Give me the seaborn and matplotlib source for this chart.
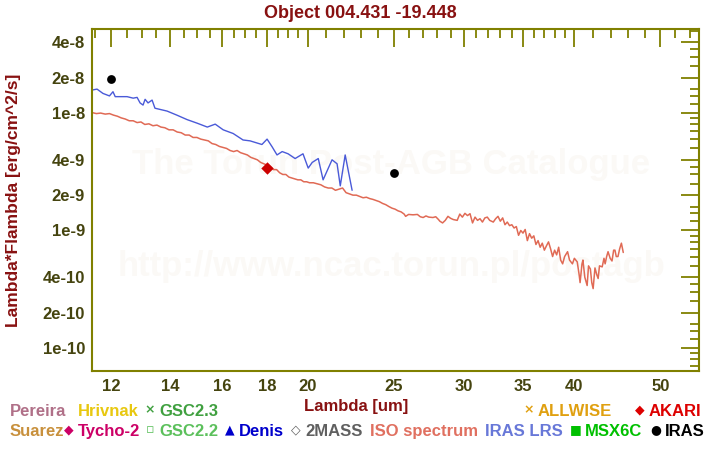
import matplotlib
matplotlib.use("Agg")
import matplotlib.pyplot as plt
import numpy as np
import pandas as pd
import seaborn as sns
from matplotlib.ticker import FixedLocator, NullFormatter

# ── Data (flux in units of 1e-9 erg/cm^2/s) ──────────────────────────────────

FLUX_UNIT = 1e-9

iso_wl = [11.42, 11.55, 11.68, 11.82, 11.95, 12.08, 12.2, 12.32, 12.45, 12.58,
          12.71, 12.84, 12.97, 13.1, 13.24, 13.38, 13.52, 13.66, 13.8, 13.95,
          14.1, 14.25, 14.4, 14.55, 14.7, 14.85, 15.0, 15.15, 15.3, 15.45,
          15.6, 15.75, 15.9, 16.05, 16.2, 16.35, 16.5, 16.65, 16.8, 16.95,
          17.1, 17.25, 17.4, 17.55, 17.7, 17.85, 18.0, 18.15, 18.3, 18.45,
          18.6, 18.75, 18.9, 19.05, 19.2, 19.35, 19.5, 19.65, 19.8, 19.95,
          20.1, 20.3, 20.5, 20.7, 20.9, 21.1, 21.3, 21.5, 21.7, 21.9,
          22.1, 22.3, 22.5, 22.7, 22.9, 23.1, 23.3, 23.5, 23.7, 23.9,
          24.1, 24.3, 24.5, 24.7, 24.9, 25.1, 25.3, 25.5, 25.7, 25.8,
          26.0, 26.3, 26.6, 26.8, 27.0, 27.2, 27.4, 27.7, 27.9, 28.1,
          28.2, 28.4, 28.6, 28.8, 29.0, 29.2, 29.5, 29.7, 29.9, 30.1,
          30.3, 30.5, 30.7, 30.9, 31.1, 31.3, 31.5, 31.7, 31.9, 32.1,
          32.4, 32.6, 32.8, 33.0, 33.2, 33.4, 33.6, 33.8, 34.0, 34.2,
          34.4, 34.6, 34.8, 35.0, 35.2, 35.4, 35.6, 35.8, 36.0, 36.2,
          36.4, 36.6, 36.8, 37.0, 37.2, 37.4, 37.6, 37.8, 38.0, 38.2,
          38.4, 38.6, 38.8, 39.0, 39.3, 39.5, 39.8, 40.0, 40.3, 40.5,
          40.6, 40.8, 40.9, 41.1, 41.35, 41.5, 41.7, 41.85, 42.0, 42.2,
          42.4, 42.55, 42.7, 43.0, 43.2, 43.33, 43.5, 43.66, 43.9, 44.11,
          44.3, 44.45, 44.6, 44.8, 45.0, 45.2, 45.42]
iso_flux = [10.1, 9.9, 10.0, 9.8, 9.9, 9.6, 9.4, 9.1, 8.9, 8.6,
            8.6, 8.3, 8.4, 8.0, 8.1, 7.8, 7.9, 7.6, 7.5, 7.2,
            7.2, 6.9, 6.8, 6.5, 6.5, 6.2, 6.2, 6.0, 5.9, 5.8,
            5.5, 5.4, 5.2, 5.1, 5.0, 4.8, 4.7, 4.8, 4.6, 4.5,
            4.4, 4.2, 4.1, 4.0, 3.8, 3.7, 3.6, 3.5, 3.3, 3.3,
            3.1, 3.0, 3.0, 2.85, 2.8, 2.75, 2.7, 2.7, 2.6, 2.6,
            2.55, 2.55, 2.5, 2.45, 2.35, 2.3, 2.3, 2.2, 2.25, 2.3,
            2.1, 2.05, 2.0, 2.0, 1.95, 1.9, 1.92, 1.87, 1.84, 1.8,
            1.76, 1.7, 1.66, 1.6, 1.55, 1.52, 1.47, 1.44, 1.38, 1.32,
            1.37, 1.36, 1.37, 1.31, 1.29, 1.33, 1.30, 1.29, 1.31, 1.24,
            1.20, 1.16, 1.22, 1.32, 1.27, 1.24, 1.22, 1.38, 1.30, 1.40,
            1.34, 1.39, 1.16, 1.30, 1.22, 1.26, 1.18, 1.28, 1.30, 1.22,
            1.18, 1.26, 1.32, 1.20, 1.28, 1.12, 1.18, 1.10, 1.12, 1.05,
            1.08, 0.91, 1.00, 0.95, 1.02, 0.82, 0.94, 0.86, 0.90, 0.76,
            0.82, 0.72, 0.78, 0.68, 0.74, 0.80, 0.70, 0.60, 0.68, 0.62,
            0.72, 0.56, 0.52, 0.60, 0.66, 0.56, 0.52, 0.58, 0.54, 0.42,
            0.36, 0.52, 0.56, 0.40, 0.34, 0.50, 0.47, 0.36, 0.32, 0.48,
            0.42, 0.39, 0.50, 0.49, 0.58, 0.52, 0.60, 0.66, 0.58, 0.55,
            0.68, 0.68, 0.60, 0.60, 0.70, 0.78, 0.65]

lrs_wl = [11.42, 11.57, 11.75, 11.95, 12.06, 12.13, 12.3, 12.51, 12.71, 12.84,
          12.94, 13.04, 13.11, 13.21, 13.35, 13.45, 13.88, 14.24, 14.62, 15.01,
          15.41, 15.73, 16.06, 16.48, 16.91, 17.22, 17.76, 18.0, 18.24, 18.47,
          18.72, 19.01, 19.36, 19.76, 20.03, 20.24, 20.56, 20.82, 21.31, 21.59,
          21.77, 22.05, 22.45]
lrs_flux = [15.7, 16.0, 14.7, 14.0, 15.2, 13.8, 13.8, 13.8, 13.4, 13.6,
            12.2, 11.7, 13.1, 12.2, 12.9, 11.0, 10.4, 9.6, 8.8, 8.2,
            7.6, 8.05, 7.2, 6.7, 5.9, 5.8, 5.4, 6.0, 5.15, 4.4,
            4.7, 4.5, 4.1, 4.5, 3.4, 3.8, 4.1, 2.7, 4.0, 3.7,
            2.4, 4.4, 2.2]

iras_wl = [12, 25]
iras_flux = [19.5, 3.1]

akari_wl = [18]
akari_flux = [3.4]

x_major = [12, 14, 16, 18, 20, 25, 30, 35, 40, 50]
x_minor = [11.5, 12.5, 13, 13.5, 14.5, 15, 15.5, 16.5, 17, 17.5, 18.5, 19, 19.5,
           21, 22, 23, 24, 26, 27, 28, 29, 31, 32, 33, 34, 36, 37, 38, 39,
           42, 44, 46, 48, 52, 54]
y_major = [4e-8, 2e-8, 1e-8, 4e-9, 2e-9, 1e-9, 4e-10, 2e-10, 1e-10]
y_major_labels = ["4e-8", "2e-8", "1e-8", "4e-9", "2e-9", "1e-9", "4e-10", "2e-10", "1e-10"]
y_minor_mant = [1.2, 1.4, 1.6, 2.5, 3, 3.5, 5, 6, 7, 8, 9]
y_decades = [1e-11, 1e-10, 1e-9, 1e-8]

# legend rows: (x pixel, symbol, label, colour)
legend_row1 = [(10, "", "Pereira", "#b07088"),
               (78, "", "Hrivnak", "#e8c810"),
               (146, "×", "GSC2.3", "#40a040"),
               (525, "×", "ALLWISE", "#e0a010"),
               (636, "◆", "AKARI", "#dd0000")]
legend_row2 = [(10, "", "Suarez", "#c8903c"),
               (65, "◆", "Tycho-2", "#cc0066"),
               (146, "▫", "GSC2.2", "#5cc05c"),
               (226, "▲", "Denis", "#0000cc"),
               (292, "◇", "2MASS", "#606060"),
               (370, "", "ISO spectrum", "#e07060"),
               (485, "", "IRAS LRS", "#6878d8"),
               (572, "■", "MSX6C", "#00c000"),
               (652, "●", "IRAS", "#000000")]

# ── Styling ───────────────────────────────────────────────────────────────────

sns.set_style("white")
plt.rcParams["font.family"] = ["Liberation Sans", "DejaVu Sans"]
plt.rcParams["font.weight"] = "bold"

OLIVE = "#808000"
TICKCOL = "#45440f"
DARKRED = "#881111"
W, H = 720, 450

fig = plt.figure(figsize=(7.2, 4.5), dpi=100)
ax = fig.add_axes([92 / W, 1 - 371 / H, (699 - 92) / W, (371 - 29) / H])

# watermark
ax.text(0.493, 1 - (174 - 29) / 342, "The Torun Post-AGB Catalogue", transform=ax.transAxes,
        ha="center", va="baseline", fontsize=25, fontweight="bold", color="#fbf9f6", zorder=0)
ax.text(0.494, 1 - (276 - 29) / 342, "http://www.ncac.torun.pl/postagb", transform=ax.transAxes,
        ha="center", va="baseline", fontsize=25, fontweight="bold", color="#fbf9f6", zorder=0)

iso_df = pd.DataFrame({"wl": iso_wl, "flux": np.array(iso_flux) * FLUX_UNIT})
lrs_df = pd.DataFrame({"wl": lrs_wl, "flux": np.array(lrs_flux) * FLUX_UNIT})

sns.lineplot(data=iso_df, x="wl", y="flux", ax=ax, color="#e06a55", lw=1.1,
             sort=False, estimator=None)
sns.lineplot(data=lrs_df, x="wl", y="flux", ax=ax, color="#4a5ad8", lw=1.0,
             sort=False, estimator=None)
sns.scatterplot(x=iras_wl, y=np.array(iras_flux) * FLUX_UNIT, ax=ax, color="black",
                marker="o", s=40, linewidth=0, zorder=5)
sns.scatterplot(x=akari_wl, y=np.array(akari_flux) * FLUX_UNIT, ax=ax, color="#cc0000",
                marker="D", s=40, linewidth=0, zorder=5)

ax.set_xscale("log")
ax.set_yscale("log")
ax.set_xlim(11.42, 55.3)
ax.set_ylim(6.36e-11, 5.2e-8)

ax.xaxis.set_major_locator(FixedLocator(x_major))
ax.xaxis.set_minor_locator(FixedLocator(x_minor))
ax.set_xticklabels([str(v) for v in x_major])
ax.xaxis.set_minor_formatter(NullFormatter())

y_minor = [m * d for d in y_decades for m in y_minor_mant]
ax.yaxis.set_major_locator(FixedLocator(y_major))
ax.yaxis.set_minor_locator(FixedLocator(y_minor))
ax.set_yticklabels(y_major_labels)
ax.yaxis.set_minor_formatter(NullFormatter())

ax.tick_params(which="both", direction="in", top=True, right=True, color=OLIVE,
               labelcolor=TICKCOL, labelsize=12, width=1.3)
ax.tick_params(which="major", length=13, pad=5)
ax.tick_params(which="minor", length=6.5)
ax.tick_params(axis="x", which="major", pad=6)
for lab in ax.get_xticklabels() + ax.get_yticklabels():
    lab.set_fontweight("bold")

for sp in ax.spines.values():
    sp.set_color(OLIVE)
    sp.set_linewidth(1.5)

ax.set_xlabel("")
ax.set_ylabel("")

# titles and axis labels
fig.text(360 / W, 1 - 17.5 / H, "Object 004.431 -19.448", ha="center", va="baseline",
         fontsize=13, fontweight="bold", color=DARKRED)
fig.text(356 / W, 1 - 411 / H, "Lambda [um]", ha="center", va="baseline",
         fontsize=12, fontweight="bold", color=DARKRED)
fig.text(14 / W, 1 - 200 / H, "Lambda*Flambda [erg/cm^2/s]", ha="center", va="center",
         rotation=90, fontsize=12.5, fontweight="bold", color=DARKRED)

# legend rows as coloured text, symbols centred on the capitals
for row, base in [(legend_row1, 416), (legend_row2, 436)]:
    for px, sym, label, col in row:
        x = px
        if sym:
            fig.text((x + 4) / W, 1 - (base - 6) / H, sym, ha="center", va="center",
                     fontsize=9, color=col, family=["DejaVu Sans"])
            x += 13
        fig.text(x / W, 1 - base / H, label, ha="left", va="baseline", fontsize=12,
                 fontweight="bold", color=col)

fig.savefig("out.png", dpi=100)
